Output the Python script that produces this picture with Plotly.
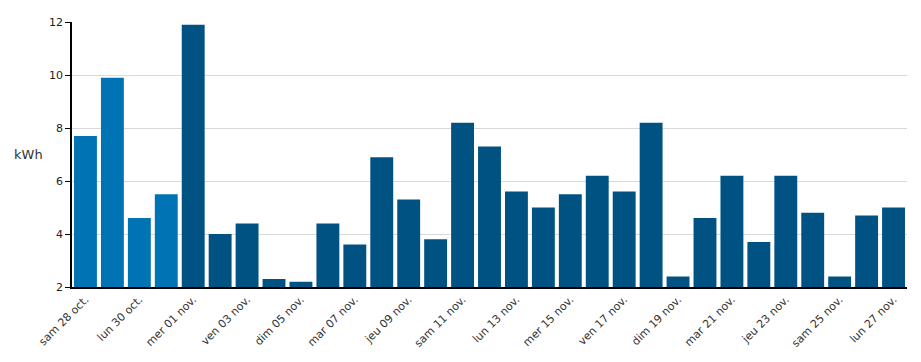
import plotly.graph_objects as go

days = ["sam 28 oct.", "dim 29 oct.", "lun 30 oct.", "mar 31 oct.",
        "mer 01 nov.", "jeu 02 nov.", "ven 03 nov.", "sam 04 nov.", "dim 05 nov.",
        "lun 06 nov.", "mar 07 nov.", "mer 08 nov.", "jeu 09 nov.", "ven 10 nov.",
        "sam 11 nov.", "dim 12 nov.", "lun 13 nov.", "mar 14 nov.", "mer 15 nov.",
        "jeu 16 nov.", "ven 17 nov.", "sam 18 nov.", "dim 19 nov.", "lun 20 nov.",
        "mar 21 nov.", "mer 22 nov.", "jeu 23 nov.", "ven 24 nov.", "sam 25 nov.",
        "dim 26 nov.", "lun 27 nov."]
kwh = [7.7, 9.9, 4.6, 5.5,
       11.9, 4.0, 4.4, 2.3, 2.2,
       4.4, 3.6, 6.9, 5.3, 3.8,
       8.2, 7.3, 5.6, 5.0, 5.5,
       6.2, 5.6, 8.2, 2.4, 4.6,
       6.2, 3.7, 6.2, 4.8, 2.4,
       4.7, 5.0]
october_days = 4
light_blue = "#0073b5"
dark_blue = "#005282"
colors = [light_blue if i < october_days else dark_blue for i in range(len(days))]
tick_labels = days[::2]

fig = go.Figure()
fig.add_trace(go.Bar(x=days, y=kwh, marker=dict(color=colors, line=dict(width=0)),
                     showlegend=False, hoverinfo="x+y"))

font_family = "DejaVu Sans, Verdana, sans-serif"
# the page body has an 8px margin, so the figure is sized / placed to compensate
fig.update_layout(
    width=905, height=346,
    margin=dict(l=64, r=6, t=14, b=67, autoexpand=False),
    paper_bgcolor="white", plot_bgcolor="white",
    bargap=0.15,
    font=dict(family=font_family, size=11, color="#333333"),
    xaxis=dict(
        type="category", tickmode="array", tickvals=tick_labels, ticktext=tick_labels,
        tickangle=-45, showline=True, linecolor="black", linewidth=1.5,
        ticks="", showgrid=False, tickfont=dict(size=11, color="#333333"),
        range=[-0.5, len(days) - 0.5], automargin=False,
    ),
    yaxis=dict(
        range=[2, 12], dtick=2, showline=True, linecolor="black", linewidth=1.5,
        ticks="outside", ticklen=5, tickcolor="black", showgrid=True,
        gridcolor="#d9d9d9", gridwidth=1, zeroline=False, automargin=False,
        tickfont=dict(size=11, color="#222222"),
    ),
    annotations=[dict(text="kWh", xref="paper", yref="paper", x=-0.072, y=0.5,
                      xanchor="left", yanchor="middle", showarrow=False,
                      font=dict(size=13, color="#333333", family=font_family))],
)

fig.write_html("out.html")
